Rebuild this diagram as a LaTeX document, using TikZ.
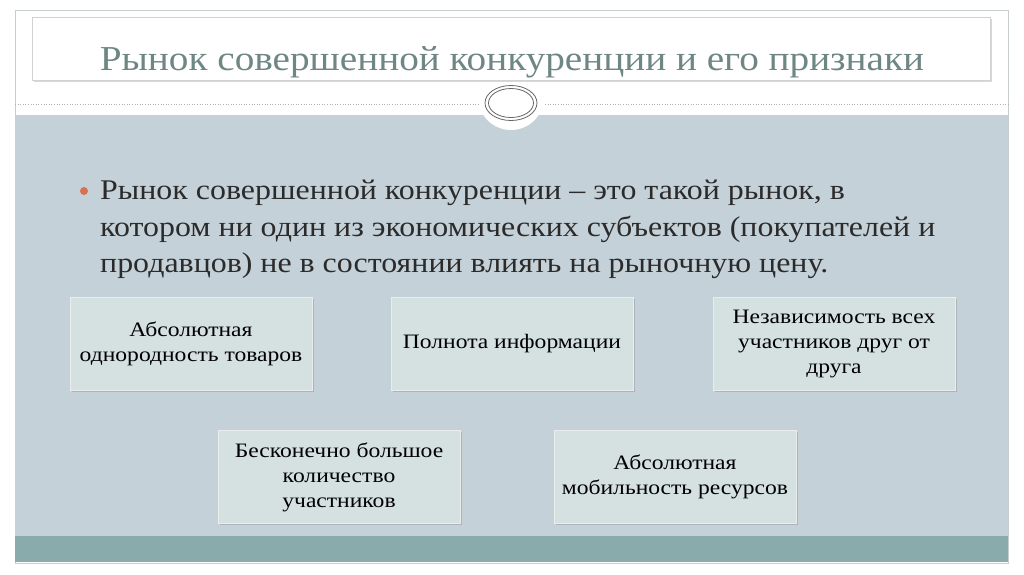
\documentclass[tikz,border=0pt]{standalone}
\usepackage{fontspec}
\setmainfont{Liberation Serif}
\newfontfamily\titlefont[FakeStretch=1.12]{Liberation Serif}
\newfontfamily\bodyfont[FakeStretch=1.12]{Liberation Serif}
\newfontfamily\boxfont[FakeStretch=1.15]{Liberation Serif}
\usetikzlibrary{shadows,shapes.geometric}
\definecolor{panel}{HTML}{C5D1D8}
\definecolor{band}{HTML}{8AABAB}
\definecolor{boxfill}{HTML}{D5E0E1}
\definecolor{titlecol}{HTML}{6E8684}
\definecolor{bulletcol}{HTML}{D9704F}
\definecolor{frame}{HTML}{C8CDCD}
\definecolor{bodytext}{HTML}{2B2B2B}
\tikzset{
  featbox/.style={draw=white!85!gray, line width=0.6pt, fill=boxfill, minimum width=242, minimum height=93,
    align=center, inner sep=2pt, font=\boxfont\fontsize{20.5}{25}\selectfont, text=black,
    drop shadow={shadow xshift=1.5pt, shadow yshift=-1.5pt, opacity=0.35}},
  bodyline/.style={anchor=base west, inner sep=0, text=bodytext, font=\bodyfont\fontsize{28.5}{34}\selectfont},
}
\begin{document}
\begin{tikzpicture}[x=1pt,y=-1pt]
\useasboundingbox (0,0) rectangle (1024,574);
\fill[white] (0,0) rectangle (1024,574);
% outer frame
\draw[frame, line width=0.8pt] (15,10) rectangle (1008,563);
% gray panel
\fill[panel] (15,115) rectangle (1008,536);
\fill[band] (15,536) rectangle (1008,562);
% badge background bump
\fill[white] (511,97) circle (33);
% title bar
\node[draw=gray!35, line width=0.6pt, fill=white, minimum width=958, minimum height=63,
  drop shadow={shadow xshift=1.5pt, shadow yshift=-1.5pt, opacity=0.3}] (titlebar) at (511,49) {};
\node[anchor=base, inner sep=0, text=titlecol, font=\titlefont\fontsize{35}{40}\selectfont] (title) at (512,70)
  {Рынок совершенной конкуренции и его признаки};
% dotted lines
\draw[gray!60, dotted, line width=0.6pt] (15,104) -- (478,104);
\draw[gray!60, dotted, line width=0.6pt] (545,104) -- (1008,104);
% badge
\node[draw=gray!80!black, line width=0.8pt, ellipse, minimum width=52, minimum height=35, inner sep=0] (badge) at (511,103) {};
\node[draw=gray!80!black, line width=0.8pt, ellipse, minimum width=45, minimum height=29, inner sep=0] (badgein) at (511,103) {};
% bullet text
\fill[bulletcol] (84,191) circle (4);
\node[bodyline] (body1) at (100,199) {Рынок совершенной конкуренции – это такой рынок, в};
\node[bodyline] (body2) at (100,236) {котором ни один из экономических субъектов (покупателей и};
\node[bodyline] (body3) at (100,272) {продавцов) не в состоянии влиять на рыночную цену.};
% boxes
\node[featbox] (b1) at (191,343.5) {Абсолютная\\однородность товаров};
\node[featbox] (b2) at (512,343.5) {Полнота информации};
\node[featbox] (b3) at (834,343.5) {Независимость всех\\участников друг от\\друга};
\node[featbox] (b4) at (339,477) {Бесконечно большое\\количество\\участников};
\node[featbox] (b5) at (675,477) {Абсолютная\\мобильность ресурсов};
\end{tikzpicture}
\end{document}
